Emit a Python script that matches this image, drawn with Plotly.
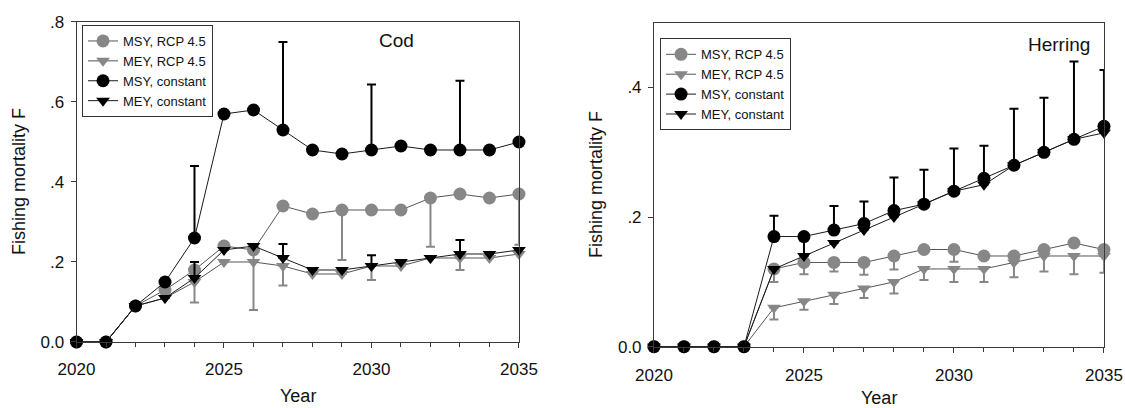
import plotly.graph_objects as go

years = list(range(2020, 2036))
series_names = ["MSY, RCP 4.5", "MEY, RCP 4.5", "MSY, constant", "MEY, constant"]

# ---- Cod ----
cod_msy_rcp = [0, 0, 0.09, 0.13, 0.18, 0.24, 0.23, 0.34, 0.32, 0.33, 0.33, 0.33, 0.36, 0.37, 0.36, 0.37]
cod_mey_rcp = [0, 0, 0.09, 0.11, 0.15, 0.20, 0.20, 0.19, 0.17, 0.17, 0.19, 0.19, 0.21, 0.21, 0.21, 0.22]
cod_msy_const = [0, 0, 0.09, 0.15, 0.26, 0.57, 0.58, 0.53, 0.48, 0.47, 0.48, 0.49, 0.48, 0.48, 0.48, 0.50]
cod_mey_const = [0, 0, 0.09, 0.11, 0.16, 0.23, 0.24, 0.21, 0.18, 0.18, 0.19, 0.20, 0.21, 0.22, 0.22, 0.23]
# error-bar ends (None = no bar); constant series: upper ends, RCP series: lower ends
cod_msy_const_hi = [None, None, None, None, 0.44, None, None, 0.75, None, None, 0.644, None, None, 0.653, None, None]
cod_mey_const_hi = [None, None, None, None, 0.20, None, None, 0.245, None, None, 0.217, None, None, 0.255, None, None]
cod_msy_rcp_lo = [None, None, None, None, None, None, 0.08, None, None, 0.205, None, None, 0.238, None, None, 0.243]
cod_mey_rcp_lo = [None, None, None, None, 0.099, None, None, 0.141, None, None, 0.155, None, None, 0.18, None, None]

# ---- Herring ----
her_msy_rcp = [0, 0, 0, 0, 0.12, 0.13, 0.13, 0.13, 0.14, 0.15, 0.15, 0.14, 0.14, 0.15, 0.16, 0.15]
her_mey_rcp = [0, 0, 0, 0, 0.06, 0.07, 0.08, 0.09, 0.10, 0.12, 0.12, 0.12, 0.13, 0.14, 0.14, 0.14]
her_msy_const = [0, 0, 0, 0, 0.17, 0.17, 0.18, 0.19, 0.21, 0.22, 0.24, 0.26, 0.28, 0.30, 0.32, 0.34]
her_mey_const = [0, 0, 0, 0, 0.12, 0.14, 0.16, 0.18, 0.20, 0.22, 0.24, 0.25, 0.28, 0.30, 0.32, 0.33]
her_msy_const_hi = [None, None, None, None, 0.202, None, 0.217, 0.224, 0.261, 0.273, 0.306, 0.31, 0.367, 0.384, 0.44, 0.427]
her_mey_const_hi = [None, None, None, None, None, 0.168, None, None, None, None, None, None, None, None, None, None]
her_msy_rcp_lo = [None, None, None, None, 0.10, 0.112, 0.116, 0.111, 0.119, None, 0.131, None, None, None, None, None]
her_mey_rcp_lo = [None, None, None, None, 0.042, 0.057, 0.066, 0.075, 0.082, 0.103, 0.10, 0.10, 0.107, 0.116, 0.112, 0.114]

panel_labels = ["Cod", "Herring"]
x_title = "Year"
y_title = "Fishing mortality F"

GREY = "#878787"
GREY_LINE = "#555555"
BLACK = "#000000"
AXC = "#3a3a3a"
TXT = "#111111"
FONT = "Liberation Sans, Arial, sans-serif"


def err_len(vals, ends):
    return [abs(e - v) if e is not None else 0 for v, e in zip(vals, ends)]


def add_series(fig, vals, ends, upward, name, color, line_color, symbol, size,
               xaxis, yaxis, legend, bar_color):
    e = err_len(vals, ends)
    z = [0] * len(vals)
    fig.add_trace(go.Scatter(
        x=years, y=vals, name=name, mode="lines+markers",
        line=dict(color=line_color, width=1),
        marker=dict(color=color, symbol=symbol, size=size, line=dict(width=0)),
        error_y=dict(type="data", symmetric=False,
                     array=e if upward else z,
                     arrayminus=z if upward else e,
                     color=bar_color, thickness=2, width=4.5),
        xaxis=xaxis, yaxis=yaxis, legend=legend, cliponaxis=False,
    ))


fig = go.Figure()

panels = [
    ("x", "y", "legend", cod_msy_rcp, cod_mey_rcp, cod_msy_const, cod_mey_const,
     cod_msy_rcp_lo, cod_mey_rcp_lo, cod_msy_const_hi, cod_mey_const_hi),
    ("x2", "y2", "legend2", her_msy_rcp, her_mey_rcp, her_msy_const, her_mey_const,
     her_msy_rcp_lo, her_mey_rcp_lo, her_msy_const_hi, her_mey_const_hi),
]
for xa, ya, lg, msy_rcp, mey_rcp, msy_c, mey_c, msy_rcp_lo, mey_rcp_lo, msy_c_hi, mey_c_hi in panels:
    add_series(fig, msy_rcp, msy_rcp_lo, False, series_names[0], GREY, GREY_LINE, "circle", 13, xa, ya, lg, GREY)
    add_series(fig, mey_rcp, mey_rcp_lo, False, series_names[1], GREY, GREY_LINE, "triangle-down", 12, xa, ya, lg, GREY)
    add_series(fig, msy_c, msy_c_hi, True, series_names[2], BLACK, "#1a1a1a", "circle", 13, xa, ya, lg, BLACK)
    add_series(fig, mey_c, mey_c_hi, True, series_names[3], BLACK, "#1a1a1a", "triangle-down", 12, xa, ya, lg, BLACK)

axis_common = dict(showline=True, mirror=True, linecolor=AXC, linewidth=1, automargin=False,
                   ticks="outside", ticklen=5, tickcolor=AXC, showgrid=False,
                   zeroline=False, tickfont=dict(size=17, color=TXT, family=FONT))

xcommon = dict(axis_common, range=[2020, 2035], tickvals=[2020, 2025, 2030, 2035],
               minor=dict(dtick=1, tick0=2020, ticks="outside", ticklen=4, tickcolor=AXC, showgrid=False))


def ann(text, x, y, size=18, angle=0, xanchor="center"):
    return dict(text=text, x=x, y=y, xref="paper", yref="paper", showarrow=False,
                xanchor=xanchor, yanchor="middle", textangle=angle,
                font=dict(size=size, family=FONT, color=TXT))


fig.update_layout(
    template="none",
    width=1125, height=408, margin=dict(l=0, r=0, t=0, b=0, autoexpand=False),
    paper_bgcolor="white", plot_bgcolor="white",
    font=dict(family=FONT, color=TXT),
    xaxis=dict(xcommon, domain=[0.068, 0.4613], anchor="y", ticklabelstandoff=7),
    yaxis=dict(axis_common, domain=[0.1618, 0.9461], anchor="x", range=[0, 0.8], ticklabelstandoff=3,
               tickvals=[0, 0.2, 0.4, 0.6, 0.8], ticktext=["0.0", ".2", ".4", ".6", ".8"]),
    xaxis2=dict(xcommon, domain=[0.5813, 0.9813], anchor="y2", ticklabelstandoff=8),
    yaxis2=dict(axis_common, domain=[0.1502, 0.9444], anchor="x2", range=[0, 0.5], ticklabelstandoff=3,
                tickvals=[0, 0.2, 0.4], ticktext=["0.0", ".2", ".4"]),
    legend=dict(x=0.0729, y=0.9387, xanchor="left", yanchor="top", bgcolor="white",
                bordercolor="#333", borderwidth=1, font=dict(size=13, family=FONT, color=TXT),
                tracegroupgap=0),
    legend2=dict(x=0.5867, y=0.906, xanchor="left", yanchor="top", bgcolor="white",
                 bordercolor="#333", borderwidth=1, font=dict(size=13, family=FONT, color=TXT),
                 tracegroupgap=0),
    annotations=[
        ann(panel_labels[0], 0.352, 1 - 40.7 / 408, size=19),
        ann(panel_labels[1], 1025.5 / 1125, 1 - 44 / 408, size=19, xanchor="left"),
        ann(x_title, 298 / 1125, 1 - 396 / 408),
        ann(x_title, 879 / 1125, 1 - 397.5 / 408),
        ann(y_title, 19 / 1125, 1 - 182 / 408, angle=-90),
        ann(y_title, 596 / 1125, 1 - 185 / 408, angle=-90),
    ],
)

fig.write_html("out.html")
